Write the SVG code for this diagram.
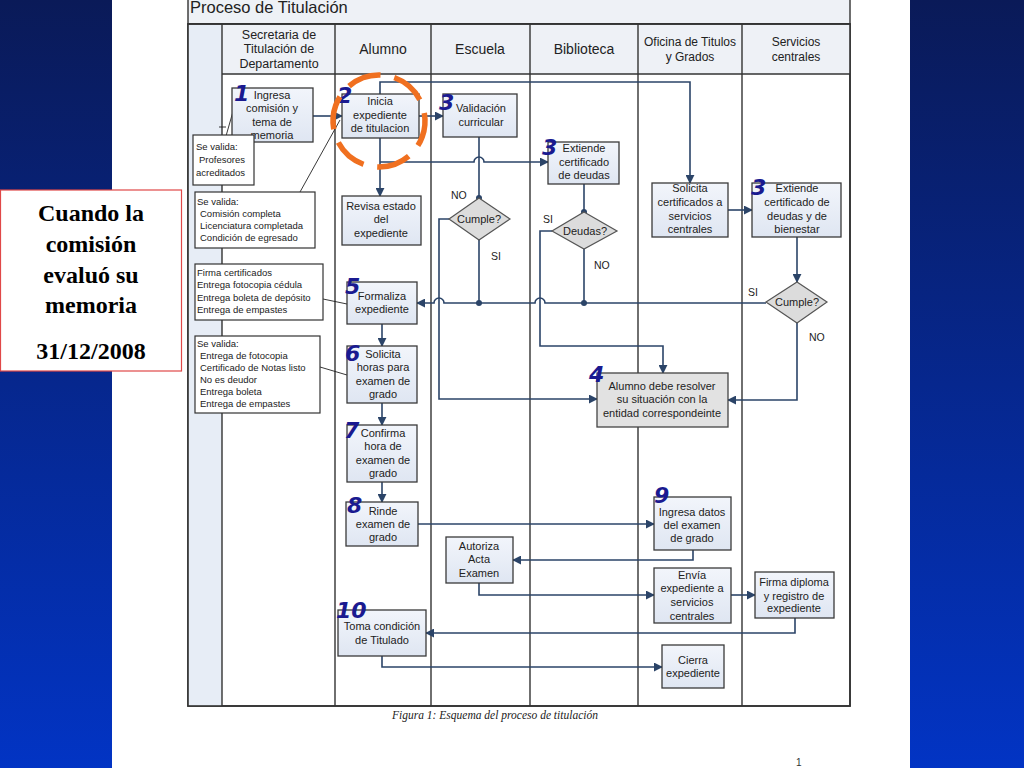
<svg xmlns="http://www.w3.org/2000/svg" width="1024" height="768" viewBox="0 0 1024 768">
<defs>
<linearGradient id="bg" x1="0" y1="0" x2="0" y2="1">
<stop offset="0" stop-color="#0a1a58"/>
<stop offset="1" stop-color="#0234c4"/>
</linearGradient>
<linearGradient id="nf" x1="0" y1="0" x2="0" y2="1">
<stop offset="0" stop-color="#f2f5fb"/>
<stop offset="1" stop-color="#dfe6f2"/>
</linearGradient>
<marker id="ar" viewBox="0 0 10 10" refX="9" refY="5" markerWidth="9" markerHeight="9" markerUnits="userSpaceOnUse" orient="auto">
<path d="M0,0 L10,5 L0,10 z" fill="#2b4468"/>
</marker>
<style>
.t{font-family:"Liberation Sans",Arial,sans-serif;font-size:11px;fill:#222;text-anchor:middle}
.n{font-family:"Liberation Sans",Arial,sans-serif;font-size:9.5px;fill:#222}
.h{font-family:"Liberation Sans",Arial,sans-serif;fill:#222;text-anchor:middle}
.lab{font-family:"Liberation Sans",Arial,sans-serif;font-size:10.5px;fill:#222}
.box{fill:url(#nf);stroke:#3a3a3a;stroke-width:1.3}
.note{fill:#fff;stroke:#333;stroke-width:1.2}
.dia{fill:#dcdcdc;stroke:#555;stroke-width:1.2}
.c{fill:none;stroke:#2b4468;stroke-width:1.6}
.ca{fill:none;stroke:#2b4468;stroke-width:1.6;marker-end:url(#ar)}
.nl{fill:none;stroke:#222;stroke-width:0.9}
.num{font-family:"DejaVu Sans",sans-serif;font-weight:bold;font-style:italic;font-size:22px;fill:#1a1a90}
.lane{stroke:#333;stroke-width:1.4}
</style>
</defs>
<rect x="0" y="0" width="1024" height="768" fill="url(#bg)"/>
<rect x="112" y="0" width="798" height="768" fill="#fff"/>

<!-- Pool frame -->
<g id="pool">
<rect x="188" y="-2" width="662" height="26" fill="#eef1f6" stroke="#333" stroke-width="1.4"/>
<text x="190" y="13" font-family="Liberation Sans,Arial,sans-serif" font-size="16.5" fill="#222">Proceso de Titulación</text>
<rect x="188" y="24" width="662" height="682" fill="#fff" stroke="#333" stroke-width="1.6"/>
<rect x="188" y="24" width="34" height="682" fill="#e7edf6"/>
<rect x="222" y="24" width="628" height="50" fill="#eef1f6"/>
<line class="lane" x1="188" y1="24" x2="850" y2="24"/>
<line class="lane" x1="222" y1="74" x2="850" y2="74"/>
<line class="lane" x1="222" y1="24" x2="222" y2="706"/>
<line class="lane" x1="335" y1="24" x2="335" y2="706" stroke-width="2"/>
<line class="lane" x1="431" y1="24" x2="431" y2="706"/>
<line class="lane" x1="530" y1="24" x2="530" y2="706"/>
<line class="lane" x1="638" y1="24" x2="638" y2="706" stroke-width="1.8"/>
<line class="lane" x1="742" y1="24" x2="742" y2="706"/>
<rect x="188" y="24" width="662" height="682" fill="none" stroke="#333" stroke-width="1.6"/>
<text class="h" font-size="12.5"><tspan x="279" y="39">Secretaria de</tspan><tspan x="279" y="53">Titulación de</tspan><tspan x="279" y="68">Departamento</tspan></text>
<text class="h" font-size="14" x="383" y="54">Alumno</text>
<text class="h" font-size="14" x="480" y="54">Escuela</text>
<text class="h" font-size="14" x="584" y="54">Biblioteca</text>
<text class="h" font-size="12"><tspan x="690" y="46">Oficina de Titulos</tspan><tspan x="690" y="61">y Grados</tspan></text>
<text class="h" font-size="12"><tspan x="796" y="46">Servicios</tspan><tspan x="796" y="61">centrales</tspan></text>
</g>

<!-- Connectors -->
<g id="connectors">
<path class="ca" d="M313,116 H342"/>
<path class="ca" d="M419,116 H443"/>
<path class="ca" d="M380,94 V82 H690 V183"/>
<path class="ca" d="M380,138 V196"/>
<path class="ca" d="M380,162 H474 a5,5 0 0 1 10,0 H548"/>
<path class="c" d="M479,137 V198"/>
<path class="c" d="M479,240 V303"/>
<path class="c" d="M584,184 V212"/>
<path class="c" d="M584,249 V303"/>
<path class="ca" d="M766,303 H545 a5,5 0 0 0 -10,0 H444 a5,5 0 0 0 -10,0 H417"/>
<path class="ca" d="M449,219 H439 V399 H597"/>
<path class="ca" d="M552,231 H540 V346 H663 V373"/>
<path class="ca" d="M728,210 H752"/>
<path class="ca" d="M797,237 V282"/>
<path class="ca" d="M797,323 V400 H728"/>
<path class="ca" d="M382,324 V346"/>
<path class="ca" d="M382,403 V425"/>
<path class="ca" d="M382,482 V502"/>
<path class="ca" d="M418,524 H654"/>
<path class="ca" d="M693,550 V560 H513"/>
<path class="ca" d="M479,583 V595 H654"/>
<path class="ca" d="M731,595 H755"/>
<path class="ca" d="M795,618 V633 H426"/>
<path class="ca" d="M382,656 V667 H662"/>
<circle cx="479" cy="198" r="3" fill="#2b4468"/>
<circle cx="479" cy="303" r="3" fill="#2b4468"/>
<circle cx="584" cy="212" r="3" fill="#2b4468"/>
<circle cx="584" cy="303" r="3" fill="#2b4468"/>
<line class="nl" x1="226" y1="136" x2="234" y2="108"/>
<line class="nl" x1="219" y1="127" x2="226" y2="127"/>
<line class="nl" x1="300" y1="192" x2="340" y2="120"/>
<line class="nl" x1="323" y1="299" x2="347" y2="304"/>
<line class="nl" x1="320" y1="367" x2="347" y2="375"/>
</g>

<!-- Nodes -->
<g id="n1"><rect class="box" x="232" y="88" width="81" height="54"/>
<text class="t"><tspan x="272" y="99">Ingresa</tspan><tspan x="272" y="112">comisión y</tspan><tspan x="272" y="126">tema de</tspan><tspan x="272" y="139">memoria</tspan></text></g>
<g id="note1"><rect class="note" x="193" y="135" width="61" height="50"/>
<text class="n"><tspan x="196" y="150">Se valida:</tspan><tspan x="199" y="163">Profesores</tspan><tspan x="196" y="176">acreditados</tspan></text></g>
<g id="n2"><rect class="box" x="342" y="94" width="77" height="44"/>
<text class="t"><tspan x="380" y="105">Inicia</tspan><tspan x="380" y="119">expediente</tspan><tspan x="380" y="132">de titulacion</tspan></text></g>
<g id="n3"><rect class="box" x="443" y="94" width="74" height="43"/>
<text class="t"><tspan x="481" y="112">Validación</tspan><tspan x="481" y="126">curricular</tspan></text></g>
<g id="revisa"><rect class="box" x="342" y="196" width="79" height="49"/>
<text class="t"><tspan x="381" y="210">Revisa estado</tspan><tspan x="381" y="223">del</tspan><tspan x="381" y="237">expediente</tspan></text></g>
<g id="note2"><rect class="note" x="195" y="192" width="120" height="56"/>
<text class="n"><tspan x="197" y="205">Se valida:</tspan><tspan x="200" y="217">Comisión completa</tspan><tspan x="200" y="229">Licenciatura completada</tspan><tspan x="200" y="241">Condición de egresado</tspan></text></g>
<g id="cumple1"><polygon class="dia" points="479,198 510,219 479,240 449,219"/>
<text class="t" x="479" y="223">Cumple?</text>
<text class="lab" x="451" y="199">NO</text><text class="lab" x="491" y="260">SI</text></g>
<g id="extiende1"><rect class="box" x="548" y="142" width="71" height="42"/>
<text class="t"><tspan x="584" y="152">Extiende</tspan><tspan x="584" y="166">certificado</tspan><tspan x="584" y="179">de deudas</tspan></text></g>
<g id="deudas"><polygon class="dia" points="584,212 617,231 584,249 552,231"/>
<text class="t" x="585" y="235">Deudas?</text>
<text class="lab" x="543" y="223">SI</text><text class="lab" x="594" y="269">NO</text></g>
<g id="solicita"><rect class="box" x="652" y="183" width="76" height="54"/>
<text class="t"><tspan x="690" y="192">Solicita</tspan><tspan x="690" y="206">certificados a</tspan><tspan x="690" y="220">servicios</tspan><tspan x="690" y="233">centrales</tspan></text></g>
<g id="extiende2"><rect class="box" x="752" y="183" width="89" height="54"/>
<text class="t"><tspan x="797" y="192">Extiende</tspan><tspan x="797" y="206">certificado de</tspan><tspan x="797" y="220">deudas y de</tspan><tspan x="797" y="233">bienestar</tspan></text></g>
<g id="cumple2"><polygon class="dia" points="797,282 827,302 797,323 766,302"/>
<text class="t" x="797" y="306">Cumple?</text>
<text class="lab" x="748" y="296">SI</text><text class="lab" x="809" y="341">NO</text></g>
<g id="n4"><rect x="597" y="373" width="131" height="54" fill="#e2e2e2" stroke="#444" stroke-width="1.3"/>
<text class="t"><tspan x="662" y="390">Alumno debe resolver</tspan><tspan x="662" y="403">su situación con la</tspan><tspan x="662" y="417">entidad correspondeinte</tspan></text></g>
<g id="n5"><rect class="box" x="347" y="282" width="70" height="42"/>
<text class="t"><tspan x="382" y="300">Formaliza</tspan><tspan x="382" y="313">expediente</tspan></text></g>
<g id="note3"><rect class="note" x="195" y="264" width="128" height="56"/>
<text class="n"><tspan x="197" y="276">Firma certificados</tspan><tspan x="197" y="288">Entrega fotocopia cédula</tspan><tspan x="197" y="301">Entrega boleta de depósito</tspan><tspan x="197" y="313">Entrega de empastes</tspan></text></g>
<g id="n6"><rect class="box" x="347" y="346" width="70" height="57"/>
<text class="t"><tspan x="383" y="358">Solicita</tspan><tspan x="383" y="371">horas para</tspan><tspan x="383" y="385">examen de</tspan><tspan x="383" y="398">grado</tspan></text></g>
<g id="note4"><rect class="note" x="195" y="336" width="125" height="77"/>
<text class="n"><tspan x="197" y="347">Se valida:</tspan><tspan x="200" y="359">Entrega de fotocopia</tspan><tspan x="200" y="371">Certificado de Notas listo</tspan><tspan x="200" y="383">No es deudor</tspan><tspan x="200" y="395">Entrega boleta</tspan><tspan x="200" y="407">Entrega de empastes</tspan></text></g>
<g id="n7"><rect class="box" x="347" y="425" width="70" height="57"/>
<text class="t"><tspan x="383" y="437">Confirma</tspan><tspan x="383" y="450">hora de</tspan><tspan x="383" y="464">examen de</tspan><tspan x="383" y="477">grado</tspan></text></g>
<g id="n8"><rect class="box" x="346" y="502" width="72" height="44"/>
<text class="t"><tspan x="383" y="515">Rinde</tspan><tspan x="383" y="528">examen de</tspan><tspan x="383" y="541">grado</tspan></text></g>
<g id="autoriza"><rect class="box" x="446" y="537" width="67" height="46"/>
<text class="t"><tspan x="479" y="550">Autoriza</tspan><tspan x="479" y="563">Acta</tspan><tspan x="479" y="577">Examen</tspan></text></g>
<g id="n10"><rect class="box" x="338" y="610" width="88" height="46"/>
<text class="t"><tspan x="382" y="630">Toma condición</tspan><tspan x="382" y="644">de Titulado</tspan></text></g>
<g id="n9"><rect class="box" x="654" y="497" width="77" height="53"/>
<text class="t"><tspan x="692" y="516">Ingresa datos</tspan><tspan x="692" y="529">del examen</tspan><tspan x="692" y="542">de grado</tspan></text></g>
<g id="envia"><rect class="box" x="654" y="568" width="77" height="55"/>
<text class="t"><tspan x="692" y="579">Envía</tspan><tspan x="692" y="592">expediente a</tspan><tspan x="692" y="606">servicios</tspan><tspan x="692" y="620">centrales</tspan></text></g>
<g id="firma"><rect class="box" x="755" y="572" width="79" height="46"/>
<text class="t"><tspan x="794" y="586">Firma diploma</tspan><tspan x="794" y="600">y registro de</tspan><tspan x="794" y="612">expediente</tspan></text></g>
<g id="cierra"><rect class="box" x="662" y="645" width="62" height="43"/>
<text class="t"><tspan x="693" y="664">Cierra</tspan><tspan x="693" y="677">expediente</tspan></text></g>

<!-- Handwritten step numbers -->
<g id="numbers">
<text class="num" x="234" y="101">1</text>
<text class="num" x="337" y="103">2</text>
<text class="num" x="439" y="110">3</text>
<text class="num" x="542" y="155">3</text>
<text class="num" x="751" y="195">3</text>
<text class="num" x="589" y="382">4</text>
<text class="num" x="345" y="294">5</text>
<text class="num" x="345" y="361">6</text>
<text class="num" x="344" y="438">7</text>
<text class="num" x="347" y="513">8</text>
<text class="num" x="654" y="503">9</text>
<text class="num" x="336" y="618">10</text>
</g>

<!-- Orange highlight circle -->
<circle cx="379" cy="121" r="46" fill="none" stroke="#f07020" stroke-width="5.5" stroke-dasharray="34,14" transform="rotate(-70 379 121)"/>

<text x="495" y="719" font-family="Liberation Serif,serif" font-style="italic" font-size="11.5" fill="#222" text-anchor="middle">Figura 1: Esquema del proceso de titulación</text>
<text x="796" y="766" font-family="Liberation Sans,sans-serif" font-size="10" fill="#333">1</text>

<!-- Callout -->
<g id="callout">
<rect x="0.5" y="190" width="181" height="181" fill="#fff" stroke="#e04848" stroke-width="1.2"/>
<text font-family="Liberation Serif,'Times New Roman',serif" font-weight="bold" font-size="24" fill="#000" text-anchor="middle"><tspan x="91" y="221">Cuando la</tspan><tspan x="91" y="252">comisión</tspan><tspan x="91" y="283">evaluó su</tspan><tspan x="91" y="313">memoria</tspan><tspan x="91" y="359">31/12/2008</tspan></text>
</g>
</svg>
